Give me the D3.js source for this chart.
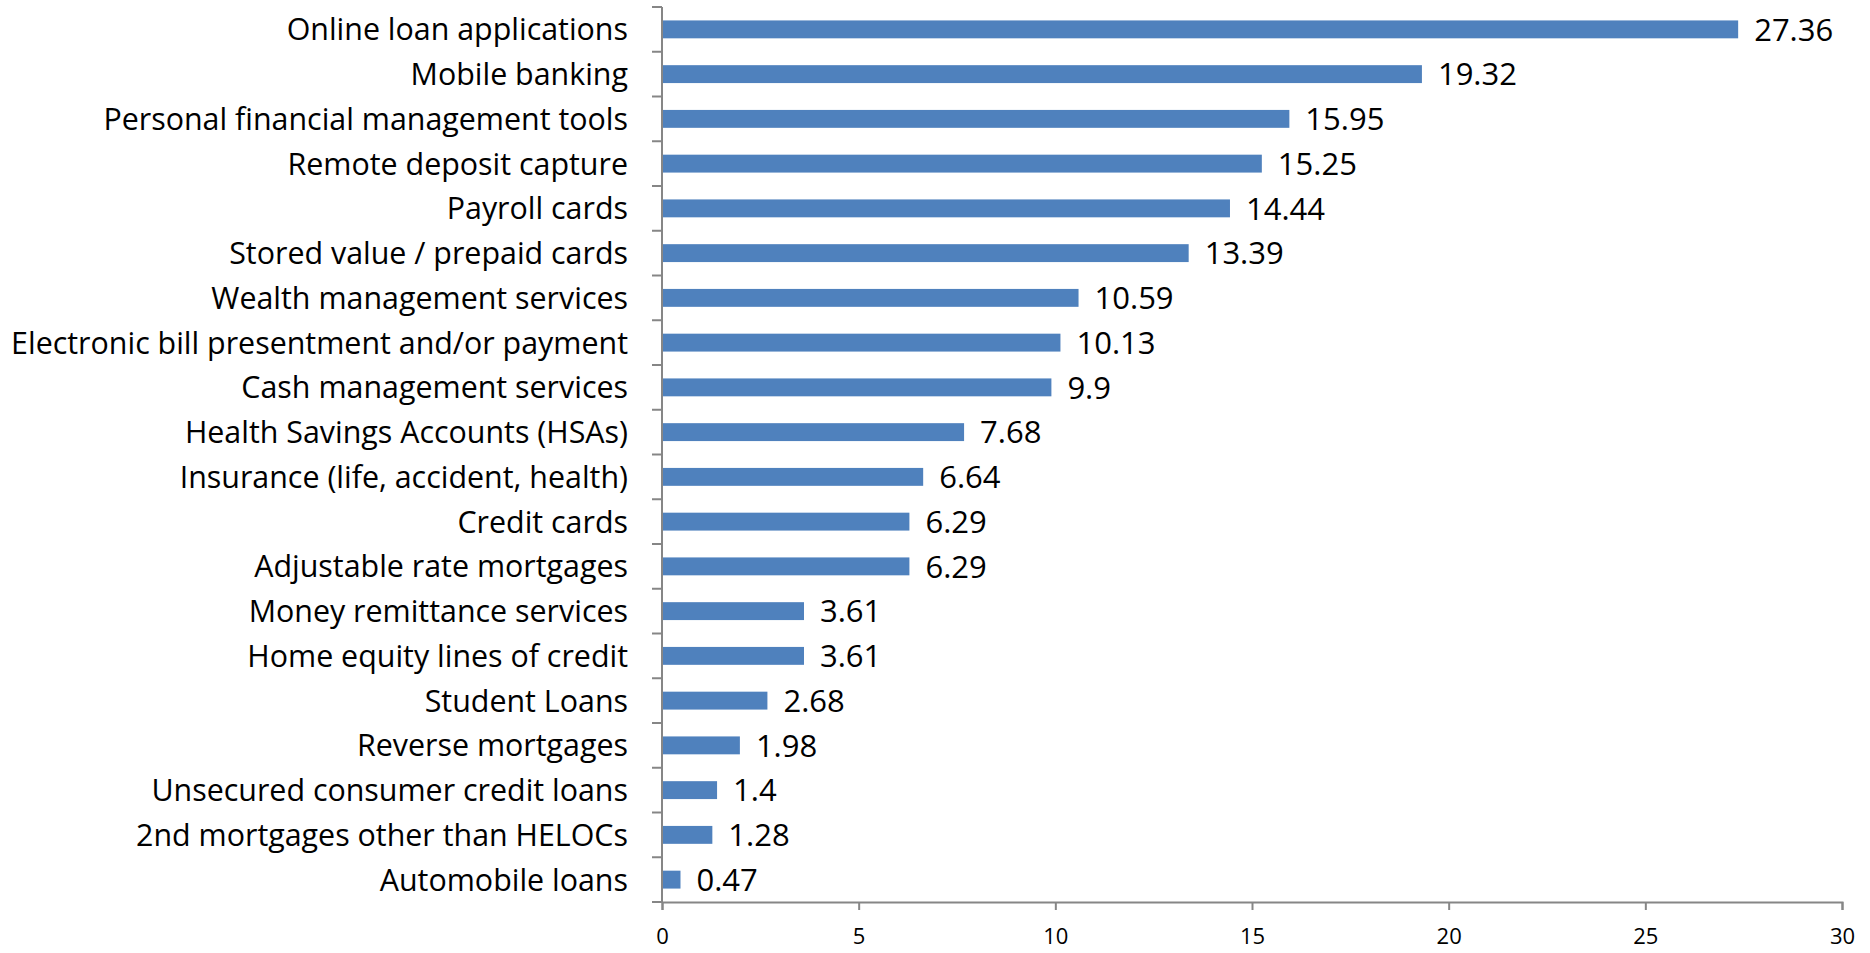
<!DOCTYPE html>
<html>
<head>
<meta charset="utf-8">
<script src="https://cdn.jsdelivr.net/npm/d3@7"></script>
<style>
  html, body { margin: 0; padding: 0; background: #ffffff; }
  svg { display: block; }
  text { font-family: "Open Sans", "Lato", sans-serif; fill: #000; }
</style>
</head>
<body>
<svg id="chart" width="1870" height="953"></svg>
<script>
// Product / service categories, top to bottom
const categories = [
  "Online loan applications",
  "Mobile banking",
  "Personal financial management tools",
  "Remote deposit capture",
  "Payroll cards",
  "Stored value / prepaid cards",
  "Wealth management services",
  "Electronic bill presentment and/or payment",
  "Cash management services",
  "Health Savings Accounts (HSAs)",
  "Insurance (life, accident, health)",
  "Credit cards",
  "Adjustable rate mortgages",
  "Money remittance services",
  "Home equity lines of credit",
  "Student Loans",
  "Reverse mortgages",
  "Unsecured consumer credit loans",
  "2nd mortgages other than HELOCs",
  "Automobile loans"
];

const values = [27.36, 19.32, 15.95, 15.25, 14.44, 13.39, 10.59, 10.13, 9.9, 7.68,
                6.64, 6.29, 6.29, 3.61, 3.61, 2.68, 1.98, 1.4, 1.28, 0.47];

const xTicks = [0, 5, 10, 15, 20, 25, 30];

const data = categories.map((c, i) => ({ name: c, value: values[i] }));

const svg = d3.select("#chart");
const margin = { top: 7, right: 28, bottom: 51, left: 662 };
const W = 1870, H = 953;
const innerW = W - margin.left - margin.right;
const innerH = H - margin.top - margin.bottom;

const x = d3.scaleLinear().domain([0, 30]).range([0, innerW]);
const y = d3.scaleBand().domain(categories).range([0, innerH]).paddingInner(0.6).paddingOuter(0.3);

const g = svg.append("g").attr("transform", `translate(${margin.left},${margin.top})`);

const axisColor = "#868686";

// Bars
g.selectAll("rect.bar")
  .data(data)
  .join("rect")
  .attr("class", "bar")
  .attr("x", x(0))
  .attr("y", d => y(d.name))
  .attr("width", d => x(d.value) - x(0))
  .attr("height", y.bandwidth())
  .attr("fill", "#4F81BD");

// Value labels
g.selectAll("text.val")
  .data(data)
  .join("text")
  .attr("class", "val")
  .attr("x", d => x(d.value) + 16)
  .attr("y", d => y(d.name) + y.bandwidth() / 2)
  .attr("dy", "0.36em")
  .style("font-size", "31px")
  .text(d => d.value);

// Category axis: line + tick marks between categories
const step = innerH / categories.length;
g.append("line")
  .attr("x1", 0).attr("x2", 0)
  .attr("y1", 0).attr("y2", innerH)
  .attr("stroke", axisColor).attr("stroke-width", 2);

g.selectAll("line.ytick")
  .data(d3.range(categories.length + 1))
  .join("line")
  .attr("class", "ytick")
  .attr("x1", -10).attr("x2", 0)
  .attr("y1", i => i * step).attr("y2", i => i * step)
  .attr("stroke", axisColor).attr("stroke-width", 2);

g.selectAll("text.cat")
  .data(categories)
  .join("text")
  .attr("class", "cat")
  .attr("x", -34)
  .attr("y", d => y(d) + y.bandwidth() / 2)
  .attr("dy", "0.36em")
  .attr("text-anchor", "end")
  .style("font-size", "30.4px")
  .text(d => d);

// Value axis
const xAxis = d3.axisBottom(x).tickValues(xTicks).tickSize(8).tickPadding(18).tickFormat(d3.format("d"));
const xg = g.append("g").attr("transform", `translate(0,${innerH})`).call(xAxis);
xg.select(".domain").attr("stroke", axisColor).attr("stroke-width", 2);
xg.selectAll(".tick line").attr("stroke", axisColor).attr("stroke-width", 2);
xg.selectAll(".tick text")
  .style("font-family", "'Open Sans', Lato, sans-serif")
  .style("font-size", "22px")
  .attr("fill", "#000");
</script>
</body>
</html>
